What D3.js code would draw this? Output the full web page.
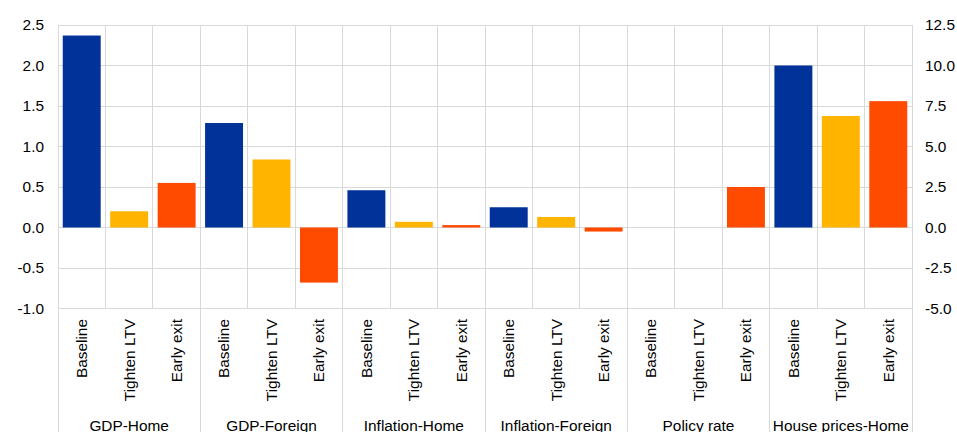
<!DOCTYPE html>
<html><head><meta charset="utf-8">
<script src="https://cdn.jsdelivr.net/npm/d3@7"></script>
<style>body{margin:0;background:#fff}text{font-family:"Liberation Sans",Arial,sans-serif;fill:#000}</style>
</head><body><svg id="c" width="957" height="432"></svg>
<script>
const groups = ["GDP-Home","GDP-Foreign","Inflation-Home","Inflation-Foreign","Policy rate","House prices-Home"];
const scenarios = ["Baseline","Tighten LTV","Early exit"];
const colors = ["#003299","#FFB400","#FF4B00"];
// left-axis groups (first five) and right-axis group (house prices)
const baseline   = [2.37, 1.29, 0.46, 0.25, 0.0, 10.0];
const tightenLTV = [0.20, 0.84, 0.07, 0.13, 0.0, 6.88];
const earlyExit  = [0.55, -0.68, 0.03, -0.05, 0.50, 7.8];
const rightAxisGroup = ["House prices-Home"];
const leftTicks = [-1.0,-0.5,0.0,0.5,1.0,1.5,2.0,2.5];
const rightTicks = [-5.0,-2.5,0.0,2.5,5.0,7.5,10.0,12.5];

const svg = d3.select("#c");
const L = 58, R = 912, T = 25, B = 308.5;
const fs = "15.4px";
const fmt = v => d3.format(".1f")(v).replace("\u2212","-");
const yL = d3.scaleLinear().domain([-1,2.5]).range([B,T]);
const yR = d3.scaleLinear().domain([-5,12.5]).range([B,T]);
const series = [baseline, tightenLTV, earlyExit];
const data = [];
groups.forEach((g,gi)=>scenarios.forEach((s,si)=>data.push({g,s,si,key:g+"|"+s,v:series[si][gi]})));
const x = d3.scaleBand().domain(data.map(d=>d.key)).range([L,R]).paddingInner(0.2).paddingOuter(0.1);
const step = x.step();
const gx = d3.scaleBand().domain(groups).range([L,R]);

const grid = svg.append("g").attr("stroke","#d9d9d9").attr("stroke-width",1).attr("shape-rendering","crispEdges");
leftTicks.forEach(t=>grid.append("line").attr("x1",L).attr("x2",R).attr("y1",yL(t)).attr("y2",yL(t)));
d3.range(data.length+1).forEach(i=>{
  const xx = L + i*step;
  const isGroup = i%3===0;
  grid.append("line").attr("x1",xx).attr("x2",xx).attr("y1",T).attr("y2",isGroup?432:B);
});

svg.append("g").selectAll("rect").data(data).join("rect")
  .attr("x",d=>x(d.key)).attr("width",x.bandwidth())
  .attr("y",d=>{const y = rightAxisGroup.includes(d.g)?yR:yL; return Math.min(y(d.v),y(0));})
  .attr("height",d=>{const y = rightAxisGroup.includes(d.g)?yR:yL; return Math.abs(y(d.v)-y(0));})
  .attr("fill",d=>colors[d.si]);

svg.append("g").selectAll("text").data(leftTicks).join("text")
  .attr("x",44).attr("y",d=>yL(d)).attr("dy","0.35em").attr("text-anchor","end").style("font-size",fs)
  .text(fmt);
svg.append("g").selectAll("text").data(rightTicks).join("text")
  .attr("x",925).attr("y",d=>yR(d)).attr("dy","0.35em").attr("text-anchor","start").style("font-size",fs)
  .text(fmt);

svg.append("g").selectAll("text").data(data).join("text")
  .attr("transform",d=>`translate(${x(d.key)+x.bandwidth()/2},319) rotate(-90)`)
  .attr("dy","0.35em").attr("text-anchor","end").style("font-size",fs).text(d=>d.s);

svg.append("g").selectAll("text").data(groups).join("text")
  .attr("x",d=>gx(d)+gx.bandwidth()/2).attr("y",430.5).attr("text-anchor","middle").style("font-size",fs).text(d=>d);
</script></body></html>
